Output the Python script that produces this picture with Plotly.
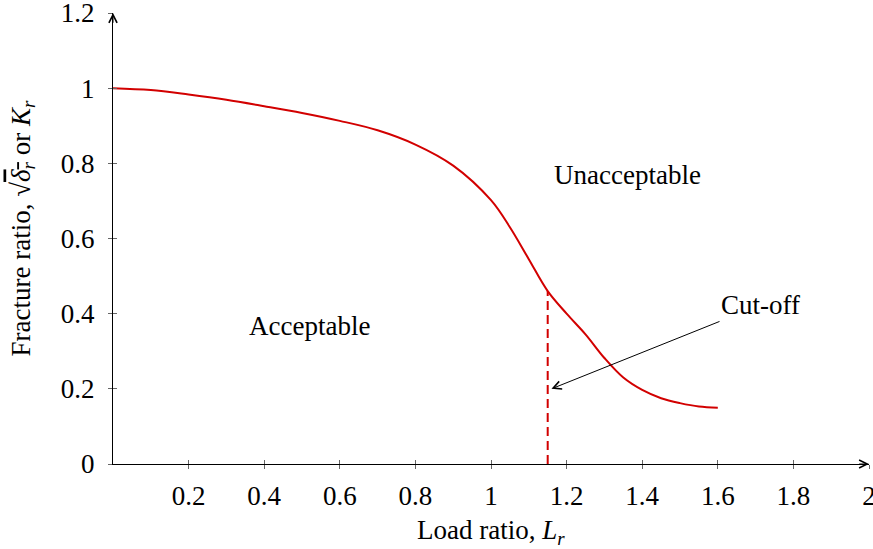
import plotly.graph_objects as go

# Failure assessment curve: load ratio vs fracture ratio
load_ratio = [0.0, 0.1, 0.2, 0.3, 0.4, 0.5, 0.6, 0.7, 0.8, 0.9, 1.0, 1.05, 1.1,
              1.15, 1.2, 1.25, 1.3, 1.35, 1.4, 1.45, 1.5, 1.55, 1.6]
fracture_ratio = [1.000, 0.995, 0.983, 0.969, 0.952, 0.934, 0.913, 0.888, 0.850,
                  0.794, 0.702, 0.630, 0.545, 0.460, 0.400, 0.345, 0.282, 0.230,
                  0.197, 0.175, 0.162, 0.153, 0.150]

# Cut-off line
cutoff_x = [1.15, 1.15]
cutoff_y = [0.0, 0.46]

# Annotation anchor points
cutoff_label = (1.713, 0.423)
cutoff_head = (1.16, 0.2)
region_labels = {"Unacceptable": (1.36, 0.77), "Acceptable": (0.52, 0.367)}

x_ticks = [0.2, 0.4, 0.6, 0.8, 1.0, 1.2, 1.4, 1.6, 1.8, 2.0]
x_tick_text = ["0.2", "0.4", "0.6", "0.8", "1", "1.2", "1.4", "1.6", "1.8", "2"]
y_ticks = [0.0, 0.2, 0.4, 0.6, 0.8, 1.0, 1.2]
y_tick_text = ["0", "0.2", "0.4", "0.6", "0.8", "1", "1.2"]
x_range = [0, 2]
y_range = [0, 1.2]

RED = "#d20000"
FONT = dict(family="Liberation Serif", size=27, color="black")
TICK_COLOR = "#666666"

fig = go.Figure()
fig.add_trace(go.Scatter(x=load_ratio, y=fracture_ratio, mode="lines",
                         line=dict(color=RED, width=2, shape="spline", smoothing=1.0),
                         hoverinfo="skip", showlegend=False))
fig.add_trace(go.Scatter(x=cutoff_x, y=cutoff_y, mode="lines",
                         line=dict(color=RED, width=2, dash="9px,5px"),
                         hoverinfo="skip", showlegend=False))
# invisible trace so the overlay axes (inner tick halves) are rendered
fig.add_trace(go.Scatter(x=x_range, y=y_range, mode="lines", xaxis="x2", yaxis="y2",
                         line=dict(width=0), opacity=0, hoverinfo="skip", showlegend=False))

axis_common = dict(showgrid=False, zeroline=False, tickfont=FONT,
                   tickcolor=TICK_COLOR, tickwidth=1, ticklen=4)

fig.update_layout(
    width=873, height=549,
    margin=dict(l=113, r=4, t=13, b=85, autoexpand=False),
    paper_bgcolor="white", plot_bgcolor="white",
    font=FONT,
    xaxis=dict(range=x_range, tickvals=x_ticks, ticktext=x_tick_text, ticks="outside",
               showline=True, linecolor="black", linewidth=1, ticklabelstandoff=4,
               ticklabeloverflow="allow", automargin=False, **axis_common),
    yaxis=dict(range=y_range, tickvals=y_ticks, ticktext=y_tick_text, ticks="outside",
               showline=True, linecolor="black", linewidth=1, ticklabelstandoff=8,
               ticklabeloverflow="allow", automargin=False, **axis_common),
    xaxis2=dict(range=x_range, tickvals=x_ticks, ticks="inside", overlaying="x",
                anchor="y", showticklabels=False, showline=False, **axis_common),
    yaxis2=dict(range=y_range, tickvals=y_ticks, ticks="inside", overlaying="y",
                anchor="x", showticklabels=False, showline=False, **axis_common),
)

annotations = [
    # axis arrowheads
    dict(x=x_range[1], y=0, ax=x_range[1] - 0.03, ay=0, xref="x", yref="y",
         axref="x", ayref="y", text="", showarrow=True, arrowhead=5,
         arrowsize=1.6, arrowwidth=1, arrowcolor="black"),
    dict(x=0, y=y_range[1], ax=0, ay=y_range[1] - 0.03, xref="x", yref="y",
         axref="x", ayref="y", text="", showarrow=True, arrowhead=5,
         arrowsize=1.6, arrowwidth=1, arrowcolor="black"),
    # cut-off label with pointer to the cut-off line
    dict(x=cutoff_head[0], y=cutoff_head[1], ax=cutoff_label[0], ay=cutoff_label[1],
         xref="x", yref="y", axref="x", ayref="y", text="Cut-off", showarrow=True,
         arrowhead=5, arrowsize=1.6, arrowwidth=1, arrowcolor="black", font=FONT),
    # axis titles
    dict(x=0.5, y=0, xref="paper", yref="paper", yshift=-68,
         text="Load ratio, <i>L</i><sub><i>r</i></sub>",
         showarrow=False, xanchor="center", yanchor="middle", font=FONT),
    dict(x=0, y=0.5, xref="paper", yref="paper", xshift=-91, yshift=10, textangle=-90,
         text="Fracture ratio, √<span style='text-decoration:overline'><i>δ</i><sub><i>r</i></sub></span> or <i>K</i><sub><i>r</i></sub>",
         showarrow=False, xanchor="center", yanchor="middle", font=FONT),
]
for label, (lx, ly) in region_labels.items():
    annotations.append(dict(x=lx, y=ly, xref="x", yref="y", text=label,
                            showarrow=False, xanchor="center", yanchor="middle", font=FONT))
fig.update_layout(annotations=annotations)

fig.write_html("out.html")
